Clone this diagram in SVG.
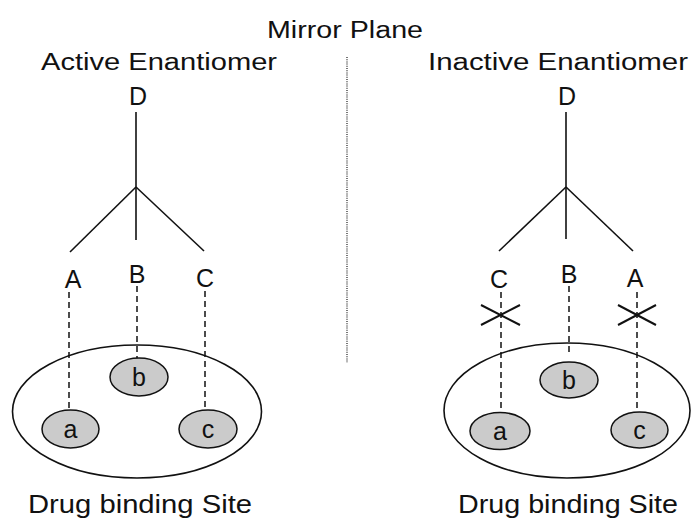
<svg xmlns="http://www.w3.org/2000/svg" width="694" height="518" viewBox="0 0 694 518">
  <style>
    .t { font-family: "Liberation Sans", Arial, sans-serif; fill: #111; }
    .title { font-size: 23.5px; }
    .lbl { font-size: 25px; text-anchor: middle; }
    .site { font-size: 25.5px; }
    .bond { stroke: #111; stroke-width: 1.6; fill: none; }
    .dash { stroke: #111; stroke-width: 1.5; stroke-dasharray: 6 4; fill: none; }
    .cross { stroke: #111; stroke-width: 2; }
    .pocket { fill: #fff; stroke: #111; stroke-width: 1.6; }
    .group { fill: #cbcbcb; stroke: #111; stroke-width: 1.5; }
    .mirror { stroke: #666; stroke-width: 1.8; stroke-dasharray: 1 1.2; }
  </style>
  <rect width="694" height="518" fill="#fff"/>

  <!-- mirror plane -->
  <g id="mirror">
    <text class="t title" x="267" y="38" textLength="156" lengthAdjust="spacingAndGlyphs">Mirror Plane</text>
    <line class="mirror" x1="347" y1="57" x2="347" y2="363"/>
  </g>

  <!-- left: active enantiomer -->
  <g id="active-molecule">
    <text class="t title" x="41" y="70" textLength="236" lengthAdjust="spacingAndGlyphs">Active Enantiomer</text>
    <text class="t lbl" x="138" y="105">D</text>
    <line class="bond" x1="136" y1="112" x2="136" y2="240"/>
    <line class="bond" x1="136" y1="187" x2="70" y2="252"/>
    <line class="bond" x1="136" y1="187" x2="204" y2="251"/>
    <text class="t lbl" x="73" y="288">A</text>
    <text class="t lbl" x="137" y="283">B</text>
    <text class="t lbl" x="205" y="287">C</text>
  </g>

  <g id="active-site">
    <ellipse class="pocket" cx="137" cy="411.5" rx="124.5" ry="66.5"/>
    <g id="active-site-b">
      <ellipse class="group" cx="139" cy="377" rx="29" ry="19"/>
      <text class="t lbl" x="139" y="386">b</text>
    </g>
    <g id="active-site-a">
      <ellipse class="group" cx="70.5" cy="429" rx="28.5" ry="19"/>
      <text class="t lbl" x="70.5" y="438">a</text>
    </g>
    <g id="active-site-c">
      <ellipse class="group" cx="208" cy="429" rx="29" ry="19"/>
      <text class="t lbl" x="208" y="438">c</text>
    </g>
    <text class="t site" x="28" y="513" textLength="224" lengthAdjust="spacingAndGlyphs">Drug binding Site</text>
  </g>

  <!-- right: inactive enantiomer -->
  <g id="inactive-molecule">
    <text class="t title" x="428" y="70" textLength="260" lengthAdjust="spacingAndGlyphs">Inactive Enantiomer</text>
    <text class="t lbl" x="567" y="105">D</text>
    <line class="bond" x1="566" y1="112" x2="566" y2="239"/>
    <line class="bond" x1="566" y1="187" x2="499" y2="251"/>
    <line class="bond" x1="566" y1="187" x2="633" y2="251"/>
    <text class="t lbl" x="499" y="288">C</text>
    <text class="t lbl" x="569" y="283">B</text>
    <text class="t lbl" x="635" y="287">A</text>
  </g>

  <g id="inactive-site">
    <ellipse class="pocket" cx="567" cy="410.5" rx="123" ry="67.5"/>
    <g id="inactive-site-b">
      <ellipse class="group" cx="569" cy="380" rx="29" ry="18"/>
      <text class="t lbl" x="569" y="389">b</text>
    </g>
    <g id="inactive-site-a">
      <ellipse class="group" cx="500" cy="431" rx="30" ry="18.5"/>
      <text class="t lbl" x="500" y="440">a</text>
    </g>
    <g id="inactive-site-c">
      <ellipse class="group" cx="639.5" cy="430" rx="28.5" ry="18"/>
      <text class="t lbl" x="639.5" y="439">c</text>
    </g>
    <text class="t site" x="458" y="513" textLength="220" lengthAdjust="spacingAndGlyphs">Drug binding Site</text>
  </g>

  <!-- binding interactions -->
  <g id="connectors">
    <line class="dash" x1="69" y1="292" x2="69" y2="410"/>
    <line class="dash" x1="137" y1="286" x2="137" y2="358"/>
    <line class="dash" x1="205" y1="291" x2="205" y2="410"/>

    <line class="dash" x1="501" y1="292" x2="501" y2="412"/>
    <line class="dash" x1="569" y1="286" x2="569" y2="352"/>
    <line class="dash" x1="637" y1="292" x2="637" y2="412"/>

    <!-- blocked interactions -->
    <line class="cross" x1="481" y1="305" x2="520" y2="325"/>
    <line class="cross" x1="481" y1="325" x2="520" y2="305"/>
    <line class="cross" x1="618" y1="305" x2="656" y2="325"/>
    <line class="cross" x1="618" y1="325" x2="656" y2="305"/>
  </g>
</svg>
